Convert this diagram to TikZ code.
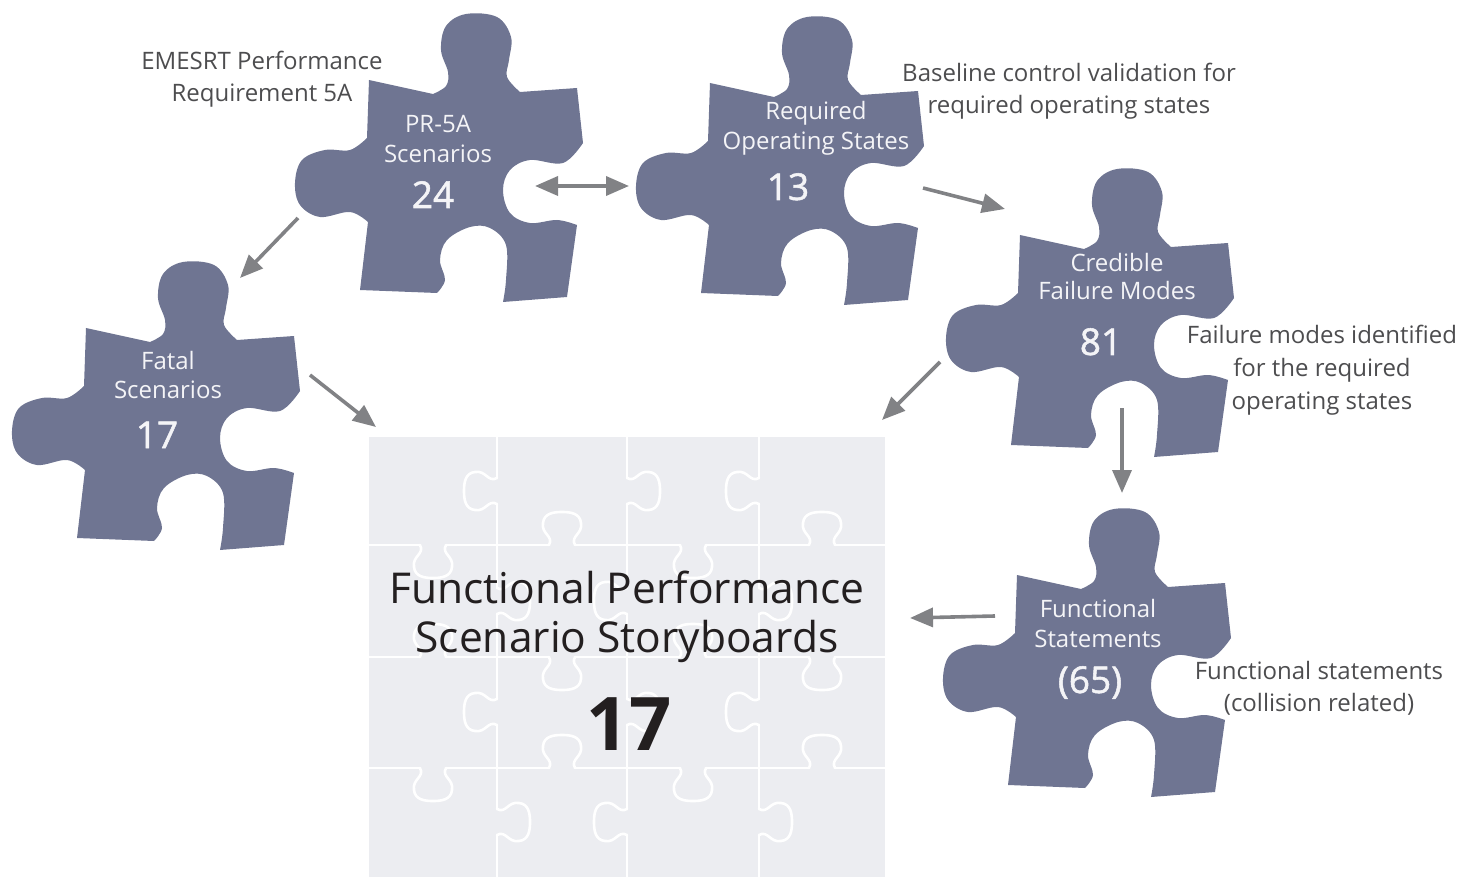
\documentclass[tikz,border=0pt]{standalone}
\usepackage{fontspec}
\setmainfont{Open Sans}
\newfontfamily\numfont{Open Sans}[FakeBold=1.4]
\usetikzlibrary{arrows.meta}

\definecolor{piecefill}{HTML}{6F7592}
\definecolor{piecetext}{HTML}{F4F4F7}
\definecolor{notetext}{HTML}{4D4D4F}
\definecolor{arrowgray}{HTML}{818285}
\definecolor{boardfill}{HTML}{ECEDF1}
\definecolor{titletext}{HTML}{231F20}

\tikzset{
  seamline/.style={draw=white, line width=2.6pt, line cap=round, line join=round},
  % one jigsaw piece, origin at its top-left body corner
  puzzlepiece/.pic={
    \fill[piecefill] (0,0) -- (64,14)
      -- plot[smooth, tension=0.6] coordinates {(64,14) (77,6) (79,-8) (72,-30) (77,-54) (97,-66) (128,-63) (142,-43) (140,-20) (138,-3) (151,12)}
      -- (208,8) -- (214,63)
      -- plot[smooth, tension=0.6] coordinates {(214,63) (194,83) (161,80) (141,90) (134,110) (141,133) (161,143) (188,140) (208,145)}
      -- (198,217) -- (134,222)
      -- plot[smooth, tension=0.6] coordinates {(134,222) (137,200) (137,165) (121,148) (101,147) (78,160) (71,180) (76,200) (68,213)}
      -- (-9,210) -- (-1,142)
      -- plot[smooth, tension=0.6] coordinates {(-1,142) (-19,132) (-49,137) (-69,125) (-74,103) (-67,80) (-44,70) (-19,70) (-2,58)}
      -- cycle;
  },
  % knob on a board seam, bulging towards negative y of the pic
  seamtab/.pic={
    \draw[seamline] (-13,0) .. controls (-8,-9) and (-21,-11) .. (-19,-22)
      .. controls (-18,-32) and (-8,-33) .. (0,-33)
      .. controls (8,-33) and (18,-32) .. (19,-22)
      .. controls (21,-11) and (8,-9) .. (13,0);
  },
  piecelabel/.style={text=piecetext, font=\fontsize{24}{29}\selectfont, inner sep=0pt, anchor=base},
  piececount/.style={text=piecetext, font=\numfont\fontsize{37}{40}\selectfont, inner sep=0pt, anchor=base},
  annot/.style={text=notetext, font=\fontsize{24}{32}\selectfont, inner sep=0pt, anchor=base},
  boardtitle/.style={text=titletext, font=\fontsize{42.5}{48}\selectfont, inner sep=0pt, anchor=base},
  flowarrow/.style={draw=arrowgray, line width=3.6pt, -{Triangle[length=23pt,width=19pt]}},
}

\begin{document}
\begin{tikzpicture}[x=1pt,y=-1pt]
\useasboundingbox (0,0) rectangle (1462,877);

% ---- storyboard board ----
\fill[boardfill] (369,437) rectangle (885,877);
\foreach \y/\ra/\rb/\rc/\rd in {545/180/0/180/0, 657/0/180/0/180, 768/180/0/180/0} {
  \draw[seamline] (369,\y) -- (420,\y) (446,\y) -- (549,\y) (575,\y) -- (680,\y) (706,\y) -- (809,\y) (835,\y) -- (885,\y);
  \pic[rotate=\ra] at (433,\y) {seamtab};
  \pic[rotate=\rb] at (562,\y) {seamtab};
  \pic[rotate=\rc] at (693,\y) {seamtab};
  \pic[rotate=\rd] at (822,\y) {seamtab};
}
\foreach \x/\ra/\rb/\rc/\rd in {497/90/-90/90/-90, 627/-90/90/-90/90, 759/90/-90/90/-90} {
  \draw[seamline] (\x,437) -- (\x,478) (\x,504) -- (\x,588) (\x,614) -- (\x,699) (\x,725) -- (\x,809) (\x,835) -- (\x,877);
  \pic[rotate=\ra] at (\x,491) {seamtab};
  \pic[rotate=\rb] at (\x,601) {seamtab};
  \pic[rotate=\rc] at (\x,712) {seamtab};
  \pic[rotate=\rd] at (\x,822) {seamtab};
}
\node[boardtitle] (fp1) at (627,603) {Functional Performance};
\node[boardtitle] (fp2) at (627,652) {Scenario Storyboards};
\node[text=titletext, font=\fontsize{74}{80}\selectfont\bfseries, inner sep=0pt, anchor=base] (fpn) at (629,750) {17};

% ---- pieces ----
\pic at (369,80) {puzzlepiece};
\pic at (710,83) {puzzlepiece};
\pic at (86,328) {puzzlepiece};
\pic at (1020,235) {puzzlepiece};
\pic at (1017,575) {puzzlepiece};

\node[piecelabel] (pr1) at (438,133) {PR-5A};
\node[piecelabel] (pr2) at (438,163) {Scenarios};
\node[piececount] (prn) at (433,208) {24};

\node[piecelabel] (ro1) at (816,120) {Required};
\node[piecelabel] (ro2) at (816,150) {Operating States};
\node[piececount] (ron) at (788,200) {13};

\node[piecelabel] (fa1) at (168,370) {Fatal};
\node[piecelabel] (fa2) at (168,398) {Scenarios};
\node[piececount] (fan) at (157,448) {17};

\node[piecelabel] (cf1) at (1117,272) {Credible};
\node[piecelabel] (cf2) at (1117,300) {Failure Modes};
\node[piececount] (cfn) at (1101,355) {81};

\node[piecelabel] (fs1) at (1098,617) {Functional};
\node[piecelabel] (fs2) at (1098,647) {Statements};
\node[piececount] (fsn) at (1090,693) {(65)};

% ---- notes ----
\node[annot] (n1a) at (262,70) {EMESRT Performance};
\node[annot] (n1b) at (262,102) {Requirement 5A};
\node[annot] (n2a) at (1069,82) {Baseline control validation for};
\node[annot] (n2b) at (1069,114) {required operating states};
\node[annot] (n3a) at (1322,344) {Failure modes identified};
\node[annot] (n3b) at (1322,377) {for the required};
\node[annot] (n3c) at (1322,409) {operating states};
\node[annot] (n4a) at (1319,679) {Functional statements};
\node[annot] (n4b) at (1319,711) {(collision related)};

% ---- connectors ----
\coordinate (pr-sw) at (298,218);
\coordinate (fa-ne) at (240,278);
\coordinate (pr-e) at (535,186);
\coordinate (ro-w) at (629,186);
\coordinate (ro-e) at (923,188);
\coordinate (cf-nw) at (1005,209);
\coordinate (cf-sw) at (940,362);
\coordinate (bd-ne) at (882,420);
\coordinate (cf-s) at (1122,408);
\coordinate (fs-n) at (1122,493);
\coordinate (fs-w) at (995,616);
\coordinate (bd-e) at (910,618);
\coordinate (fa-se) at (310,375);
\coordinate (bd-nw) at (376,427);

\draw[flowarrow] (pr-sw) -- (fa-ne);
\draw[flowarrow, {Triangle[length=23pt,width=19pt]}-{Triangle[length=23pt,width=19pt]}] (pr-e) -- (ro-w);
\draw[flowarrow] (ro-e) -- (cf-nw);
\draw[flowarrow] (cf-sw) -- (bd-ne);
\draw[flowarrow] (cf-s) -- (fs-n);
\draw[flowarrow] (fs-w) -- (bd-e);
\draw[flowarrow] (fa-se) -- (bd-nw);
\end{tikzpicture}
\end{document}
